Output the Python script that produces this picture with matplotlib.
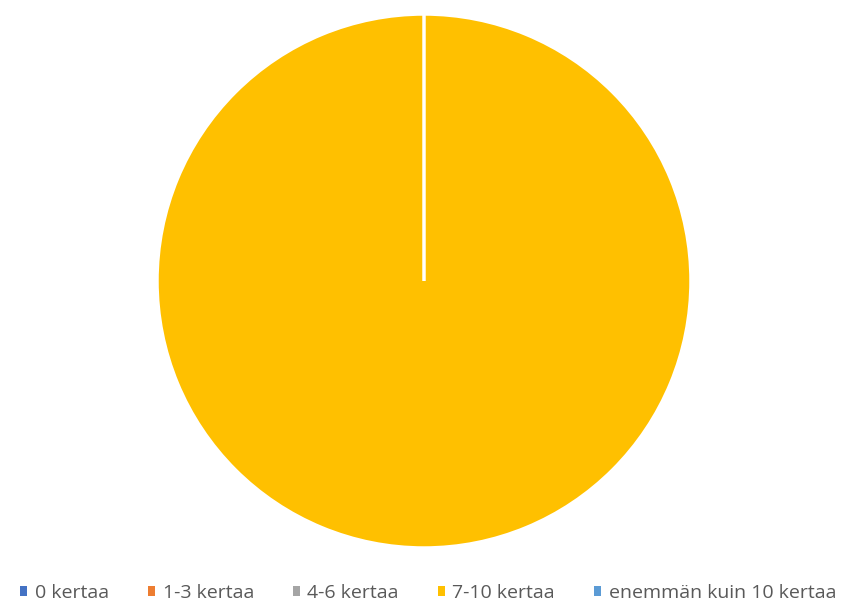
import matplotlib.pyplot as plt
from matplotlib.patches import Patch

# Vastaukset
labels = ['0 kertaa', '1-3 kertaa', '4-6 kertaa', '7-10 kertaa', 'enemmän kuin 10 kertaa']
values = [0, 0, 0, 100, 0]
colors = ['#4472C4', '#ED7D31', '#A5A5A5', '#FFC000', '#5B9BD5']

plt.rcParams['font.family'] = ['Open Sans', 'DejaVu Sans']

fig = plt.figure(figsize=(8.48, 6.05), dpi=100)
ax = fig.add_axes([157 / 848, 57 / 605, 534 / 848, 534 / 605])

ax.pie(values, colors=colors, startangle=90, counterclock=False,
       wedgeprops=dict(edgecolor='white', linewidth=2.5))
ax.set_xlim(-1.0, 1.0)
ax.set_ylim(-1.0, 1.0)
ax.set_aspect('equal')
ax.axis('off')

handles = [Patch(facecolor=c, edgecolor='none') for c in colors]
leg = fig.legend(handles, labels, loc='center', bbox_to_anchor=(0.505, 1 - 593 / 605),
                 ncol=5, frameon=False, fontsize=14, handlelength=0.35, handleheight=0.35,
                 handletextpad=0.4, columnspacing=2.0, labelcolor='#595959',
                 borderpad=0, borderaxespad=0)

fig.savefig('out.png', dpi=100)
